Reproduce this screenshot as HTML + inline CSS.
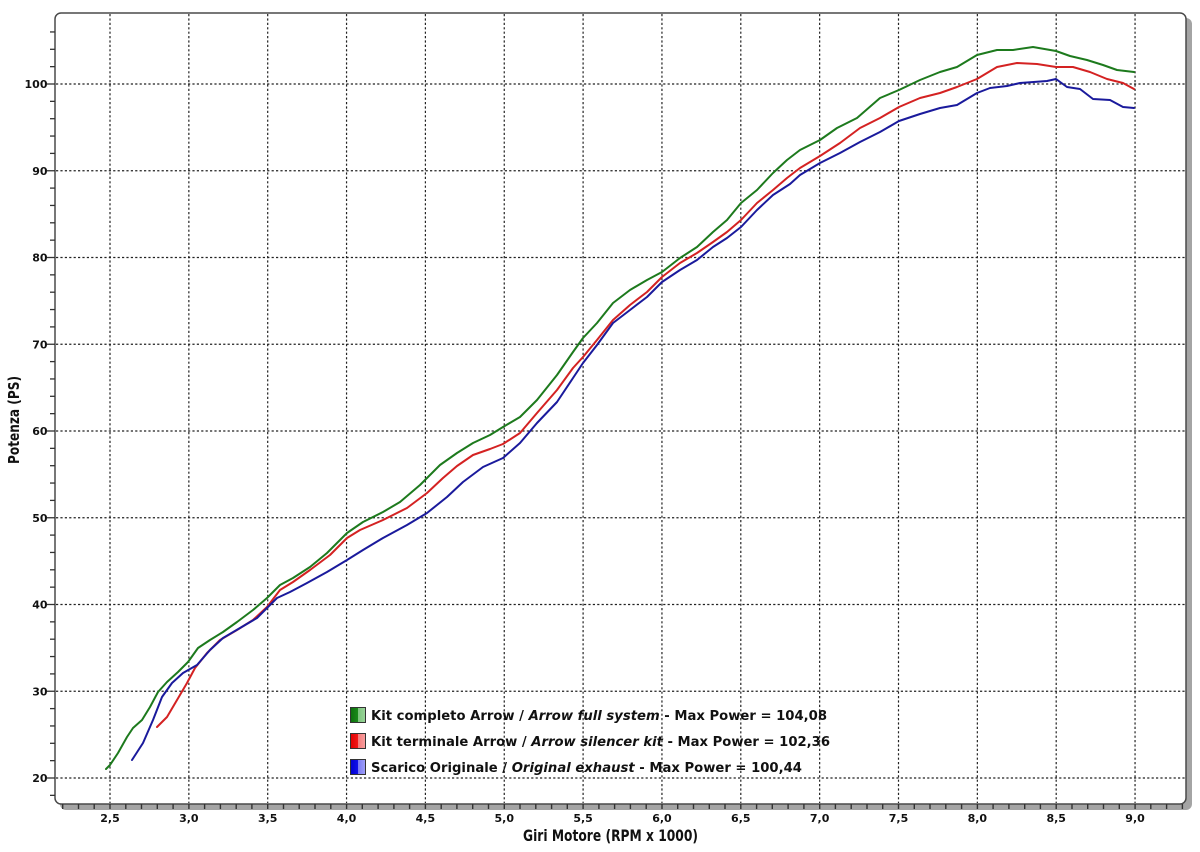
<!DOCTYPE html>
<html><head><meta charset="utf-8"><style>
html,body{margin:0;padding:0;background:#fff;}
svg{display:block;}
text{font-family:"DejaVu Sans","Liberation Sans",sans-serif;font-weight:bold;fill:#111;}
</style></head><body>
<svg width="1200" height="852" viewBox="0 0 1200 852" xmlns="http://www.w3.org/2000/svg">
<defs>
<linearGradient id="gG" x1="0" x2="1" y1="0" y2="0"><stop offset="0" stop-color="#0c6e0c"/><stop offset="0.5" stop-color="#1a8a1a"/><stop offset="0.5" stop-color="#7cc47c"/><stop offset="1" stop-color="#9ad49a"/></linearGradient>
<linearGradient id="gR" x1="0" x2="1" y1="0" y2="0"><stop offset="0" stop-color="#e00000"/><stop offset="0.5" stop-color="#f01818"/><stop offset="0.5" stop-color="#f47a7a"/><stop offset="1" stop-color="#f8a0a0"/></linearGradient>
<linearGradient id="gB" x1="0" x2="1" y1="0" y2="0"><stop offset="0" stop-color="#0000d0"/><stop offset="0.5" stop-color="#1010e8"/><stop offset="0.5" stop-color="#7a7af4"/><stop offset="1" stop-color="#a0a0f8"/></linearGradient>
</defs>
<rect x="0" y="0" width="1200" height="852" fill="#fff"/>
<rect x="60" y="18" width="1132" height="792" rx="6" ry="6" fill="#a4a4a4"/>
<rect x="55" y="13" width="1131" height="791" rx="6" ry="6" fill="#fff" stroke="#4a4a4a" stroke-width="1.5"/>

<g stroke="#222" stroke-width="1.2" stroke-dasharray="2.2,2.2" fill="none">
<line x1="56" x2="1185" y1="84" y2="84"/>
<line x1="56" x2="1185" y1="170.75" y2="170.75"/>
<line x1="56" x2="1185" y1="257.5" y2="257.5"/>
<line x1="56" x2="1185" y1="344.25" y2="344.25"/>
<line x1="56" x2="1185" y1="431" y2="431"/>
<line x1="56" x2="1185" y1="517.75" y2="517.75"/>
<line x1="56" x2="1185" y1="604.5" y2="604.5"/>
<line x1="56" x2="1185" y1="691.25" y2="691.25"/>
<line x1="56" x2="1185" y1="778" y2="778"/>
<line y1="14" y2="803" x1="110" x2="110"/>
<line y1="14" y2="803" x1="188.85" x2="188.85"/>
<line y1="14" y2="803" x1="267.7" x2="267.7"/>
<line y1="14" y2="803" x1="346.55" x2="346.55"/>
<line y1="14" y2="803" x1="425.4" x2="425.4"/>
<line y1="14" y2="803" x1="504.25" x2="504.25"/>
<line y1="14" y2="803" x1="583.1" x2="583.1"/>
<line y1="14" y2="803" x1="661.95" x2="661.95"/>
<line y1="14" y2="803" x1="740.8" x2="740.8"/>
<line y1="14" y2="803" x1="819.65" x2="819.65"/>
<line y1="14" y2="803" x1="898.5" x2="898.5"/>
<line y1="14" y2="803" x1="977.35" x2="977.35"/>
<line y1="14" y2="803" x1="1056.2" x2="1056.2"/>
<line y1="14" y2="803" x1="1135.05" x2="1135.05"/>
</g>

<g stroke="#333" stroke-width="1.3">
<line x1="50" x2="55" y1="795.35" y2="795.35"/>
<line x1="47" x2="55" y1="778" y2="778"/>
<line x1="50" x2="55" y1="760.65" y2="760.65"/>
<line x1="50" x2="55" y1="743.3" y2="743.3"/>
<line x1="50" x2="55" y1="725.95" y2="725.95"/>
<line x1="50" x2="55" y1="708.6" y2="708.6"/>
<line x1="47" x2="55" y1="691.25" y2="691.25"/>
<line x1="50" x2="55" y1="673.9" y2="673.9"/>
<line x1="50" x2="55" y1="656.55" y2="656.55"/>
<line x1="50" x2="55" y1="639.2" y2="639.2"/>
<line x1="50" x2="55" y1="621.85" y2="621.85"/>
<line x1="47" x2="55" y1="604.5" y2="604.5"/>
<line x1="50" x2="55" y1="587.15" y2="587.15"/>
<line x1="50" x2="55" y1="569.8" y2="569.8"/>
<line x1="50" x2="55" y1="552.45" y2="552.45"/>
<line x1="50" x2="55" y1="535.1" y2="535.1"/>
<line x1="47" x2="55" y1="517.75" y2="517.75"/>
<line x1="50" x2="55" y1="500.4" y2="500.4"/>
<line x1="50" x2="55" y1="483.05" y2="483.05"/>
<line x1="50" x2="55" y1="465.7" y2="465.7"/>
<line x1="50" x2="55" y1="448.35" y2="448.35"/>
<line x1="47" x2="55" y1="431" y2="431"/>
<line x1="50" x2="55" y1="413.65" y2="413.65"/>
<line x1="50" x2="55" y1="396.3" y2="396.3"/>
<line x1="50" x2="55" y1="378.95" y2="378.95"/>
<line x1="50" x2="55" y1="361.6" y2="361.6"/>
<line x1="47" x2="55" y1="344.25" y2="344.25"/>
<line x1="50" x2="55" y1="326.9" y2="326.9"/>
<line x1="50" x2="55" y1="309.55" y2="309.55"/>
<line x1="50" x2="55" y1="292.2" y2="292.2"/>
<line x1="50" x2="55" y1="274.85" y2="274.85"/>
<line x1="47" x2="55" y1="257.5" y2="257.5"/>
<line x1="50" x2="55" y1="240.15" y2="240.15"/>
<line x1="50" x2="55" y1="222.8" y2="222.8"/>
<line x1="50" x2="55" y1="205.45" y2="205.45"/>
<line x1="50" x2="55" y1="188.1" y2="188.1"/>
<line x1="47" x2="55" y1="170.75" y2="170.75"/>
<line x1="50" x2="55" y1="153.4" y2="153.4"/>
<line x1="50" x2="55" y1="136.05" y2="136.05"/>
<line x1="50" x2="55" y1="118.7" y2="118.7"/>
<line x1="50" x2="55" y1="101.35" y2="101.35"/>
<line x1="47" x2="55" y1="84" y2="84"/>
<line x1="50" x2="55" y1="66.65" y2="66.65"/>
<line x1="50" x2="55" y1="49.3" y2="49.3"/>
<line x1="50" x2="55" y1="31.95" y2="31.95"/>
</g>

<g stroke="#333" stroke-width="1.4">
<line x1="62.7" x2="62.7" y1="804" y2="809"/><line x1="78.5" x2="78.5" y1="804" y2="809"/><line x1="94.2" x2="94.2" y1="804" y2="809"/><line x1="110" x2="110" y1="804" y2="809"/><line x1="125.8" x2="125.8" y1="804" y2="809"/><line x1="141.5" x2="141.5" y1="804" y2="809"/><line x1="157.3" x2="157.3" y1="804" y2="809"/><line x1="173.1" x2="173.1" y1="804" y2="809"/><line x1="188.9" x2="188.9" y1="804" y2="809"/><line x1="204.6" x2="204.6" y1="804" y2="809"/>
<line x1="220.4" x2="220.4" y1="804" y2="809"/><line x1="236.2" x2="236.2" y1="804" y2="809"/><line x1="251.9" x2="251.9" y1="804" y2="809"/><line x1="267.7" x2="267.7" y1="804" y2="809"/><line x1="283.5" x2="283.5" y1="804" y2="809"/><line x1="299.2" x2="299.2" y1="804" y2="809"/><line x1="315" x2="315" y1="804" y2="809"/><line x1="330.8" x2="330.8" y1="804" y2="809"/><line x1="346.6" x2="346.6" y1="804" y2="809"/><line x1="362.3" x2="362.3" y1="804" y2="809"/>
<line x1="378.1" x2="378.1" y1="804" y2="809"/><line x1="393.9" x2="393.9" y1="804" y2="809"/><line x1="409.6" x2="409.6" y1="804" y2="809"/><line x1="425.4" x2="425.4" y1="804" y2="809"/><line x1="441.2" x2="441.2" y1="804" y2="809"/><line x1="456.9" x2="456.9" y1="804" y2="809"/><line x1="472.7" x2="472.7" y1="804" y2="809"/><line x1="488.5" x2="488.5" y1="804" y2="809"/><line x1="504.3" x2="504.3" y1="804" y2="809"/><line x1="520" x2="520" y1="804" y2="809"/>
<line x1="535.8" x2="535.8" y1="804" y2="809"/><line x1="551.6" x2="551.6" y1="804" y2="809"/><line x1="567.3" x2="567.3" y1="804" y2="809"/><line x1="583.1" x2="583.1" y1="804" y2="809"/><line x1="598.9" x2="598.9" y1="804" y2="809"/><line x1="614.6" x2="614.6" y1="804" y2="809"/><line x1="630.4" x2="630.4" y1="804" y2="809"/><line x1="646.2" x2="646.2" y1="804" y2="809"/><line x1="662" x2="662" y1="804" y2="809"/><line x1="677.7" x2="677.7" y1="804" y2="809"/>
<line x1="693.5" x2="693.5" y1="804" y2="809"/><line x1="709.3" x2="709.3" y1="804" y2="809"/><line x1="725" x2="725" y1="804" y2="809"/><line x1="740.8" x2="740.8" y1="804" y2="809"/><line x1="756.6" x2="756.6" y1="804" y2="809"/><line x1="772.3" x2="772.3" y1="804" y2="809"/><line x1="788.1" x2="788.1" y1="804" y2="809"/><line x1="803.9" x2="803.9" y1="804" y2="809"/><line x1="819.7" x2="819.7" y1="804" y2="809"/><line x1="835.4" x2="835.4" y1="804" y2="809"/>
<line x1="851.2" x2="851.2" y1="804" y2="809"/><line x1="867" x2="867" y1="804" y2="809"/><line x1="882.7" x2="882.7" y1="804" y2="809"/><line x1="898.5" x2="898.5" y1="804" y2="809"/><line x1="914.3" x2="914.3" y1="804" y2="809"/><line x1="930" x2="930" y1="804" y2="809"/><line x1="945.8" x2="945.8" y1="804" y2="809"/><line x1="961.6" x2="961.6" y1="804" y2="809"/><line x1="977.4" x2="977.4" y1="804" y2="809"/><line x1="993.1" x2="993.1" y1="804" y2="809"/>
<line x1="1008.9" x2="1008.9" y1="804" y2="809"/><line x1="1024.7" x2="1024.7" y1="804" y2="809"/><line x1="1040.4" x2="1040.4" y1="804" y2="809"/><line x1="1056.2" x2="1056.2" y1="804" y2="809"/><line x1="1072" x2="1072" y1="804" y2="809"/><line x1="1087.7" x2="1087.7" y1="804" y2="809"/><line x1="1103.5" x2="1103.5" y1="804" y2="809"/><line x1="1119.3" x2="1119.3" y1="804" y2="809"/><line x1="1135.1" x2="1135.1" y1="804" y2="809"/><line x1="1150.8" x2="1150.8" y1="804" y2="809"/>
<line x1="1166.6" x2="1166.6" y1="804" y2="809"/><line x1="1182.4" x2="1182.4" y1="804" y2="809"/>
</g>

<g font-size="11" text-anchor="end">
<text x="47.5" y="88">100</text>
<text x="47.5" y="174.75">90</text>
<text x="47.5" y="261.5">80</text>
<text x="47.5" y="348.25">70</text>
<text x="47.5" y="435">60</text>
<text x="47.5" y="521.75">50</text>
<text x="47.5" y="608.5">40</text>
<text x="47.5" y="695.25">30</text>
<text x="47.5" y="782">20</text>
</g>
<g font-size="11" text-anchor="middle">
<text x="110" y="822">2,5</text>
<text x="188.85" y="822">3,0</text>
<text x="267.7" y="822">3,5</text>
<text x="346.55" y="822">4,0</text>
<text x="425.4" y="822">4,5</text>
<text x="504.25" y="822">5,0</text>
<text x="583.1" y="822">5,5</text>
<text x="661.95" y="822">6,0</text>
<text x="740.8" y="822">6,5</text>
<text x="819.65" y="822">7,0</text>
<text x="898.5" y="822">7,5</text>
<text x="977.35" y="822">8,0</text>
<text x="1056.2" y="822">8,5</text>
<text x="1135.05" y="822">9,0</text>
</g>

<text x="523" y="841" font-size="16" textLength="175" lengthAdjust="spacingAndGlyphs">Giri Motore (RPM x 1000)</text>
<text transform="translate(19,464) rotate(-90)" font-size="15" textLength="88" lengthAdjust="spacingAndGlyphs">Potenza (PS)</text>

<g fill="none" stroke-width="2" stroke-linejoin="round" stroke-linecap="round">
<polyline stroke="#1d7a1d" points="106,769 110,765 118,753 127,737 133,728 142,720 150,707 158,692 167,682 178,672 188,662 198,648 210,640 223,632 237,622 253,610 267,598 280,585 293,578 310,567 327,553 347,533 363,522 383,512 400,502 420,485 433,472 440,465 457,453 473,443 490,435 503,427 520,417 537,400 557,375 573,352 583,338 597,323 613,303 630,290 647,280 662,272 680,258 697,247 713,232 727,220 741,203 757,190 773,173 787,160 800,150 820,140 837,128 857,118 880,98 899,90 920,80 940,72 957,67 977,55 997,50 1013,50 1033,47 1056,51 1070,56 1087,60 1103,65 1117,70 1134,72"/>
<polyline stroke="#d42222" points="157,727 167,717 177,700 187,683 195,668 207,653 220,640 237,630 253,620 267,607 280,590 293,582 310,570 330,555 347,538 360,530 383,520 407,508 427,493 443,478 457,466 473,455 490,449 503,444 520,433 537,413 557,390 573,368 583,357 597,340 613,320 630,305 647,292 662,277 680,263 697,253 713,242 727,232 741,220 757,203 773,190 787,178 800,168 820,156 840,143 860,128 880,118 899,107 920,98 940,93 957,87 977,79 997,67 1017,63 1037,64 1056,67 1073,67 1090,72 1107,79 1123,83 1134,89"/>
<polyline stroke="#1a1a9c" points="132,760 143,743 153,720 162,697 172,683 183,673 197,665 210,650 223,638 240,628 257,618 267,608 277,598 290,592 307,583 327,572 347,560 363,550 383,538 407,525 427,513 447,497 463,482 483,467 503,458 520,443 537,423 557,402 573,378 583,363 597,345 613,323 630,310 647,297 662,282 680,270 697,260 713,247 727,238 741,227 757,210 773,195 790,184 800,175 820,163 840,153 860,142 880,132 899,121 920,114 940,108 957,105 977,93 990,88 1007,86 1020,83 1047,81 1056,79 1067,87 1080,89 1093,99 1110,100 1123,107 1134,108"/>
</g>

<rect x="350.5" y="707.5" width="15" height="15" fill="url(#gG)" stroke="#333" stroke-width="1"/>
<rect x="350.5" y="733.5" width="15" height="15" fill="url(#gR)" stroke="#333" stroke-width="1"/>
<rect x="350.5" y="759.5" width="15" height="15" fill="url(#gB)" stroke="#333" stroke-width="1"/>
<g font-size="13.5">
<text x="371" y="720" textLength="456" lengthAdjust="spacingAndGlyphs">Kit completo Arrow / <tspan font-style="italic">Arrow full system</tspan> - Max Power = 104,08</text>
<text x="371" y="746" textLength="459" lengthAdjust="spacingAndGlyphs">Kit terminale Arrow / <tspan font-style="italic">Arrow silencer kit</tspan> - Max Power = 102,36</text>
<text x="371" y="772" textLength="431" lengthAdjust="spacingAndGlyphs">Scarico Originale / <tspan font-style="italic">Original exhaust</tspan> - Max Power = 100,44</text>
</g>
</svg>
</body></html>
